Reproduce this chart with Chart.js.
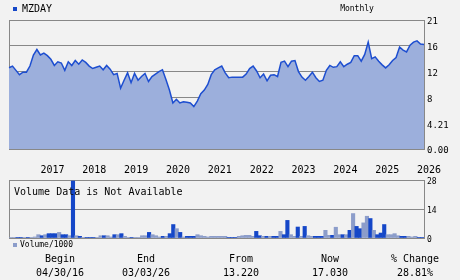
<!DOCTYPE html>
<html><head><meta charset="utf-8">
<script src="https://cdn.jsdelivr.net/npm/chart.js@4/dist/chart.umd.min.js"></script>
<style>
html,body{margin:0;padding:0;background:#f2f2f2;width:460px;height:280px;overflow:hidden;font-family:"DejaVu Sans Mono",monospace;color:#000}
#wrap{position:relative;width:460px;height:280px}
canvas{position:absolute;left:0}
.t{position:absolute;white-space:nowrap;line-height:1}
.c{text-align:center;width:100px}
</style></head><body>
<div id="wrap">
<canvas id="price" width="460" height="180" style="top:0"></canvas>
<canvas id="vol" width="460" height="75" style="top:170px"></canvas>
</div>
<script>
// ---- data ----
const ticker = 'MZDAY';
const period = 'Monthly';
const startYear = 2016, startMonth = 4, monthCount = 120; // Apr 2016 .. Mar 2026
const price = [13.22,13.5,12.8,12.1,12.5,12.5,13.5,15.3,16.2,15.3,
  15.6,15.2,14.6,13.6,14.2,14.0,12.8,14.2,13.6,14.4,
  13.8,14.5,14.1,13.5,13.1,13.3,13.5,12.9,13.6,13.0,
  12.1,12.3,9.9,11.2,12.4,10.8,12.3,11.2,11.8,12.3,
  11.0,11.8,12.2,12.6,12.9,11.3,9.6,7.5,8.1,7.5,
  7.7,7.6,7.5,6.9,7.8,9.0,9.6,10.5,12.1,12.9,
  13.2,13.5,12.4,11.6,11.7,11.7,11.7,11.7,12.2,13.1,
  13.5,12.7,11.6,12.2,11.1,12.0,12.1,11.8,14.1,14.3,
  13.4,14.3,14.4,12.6,11.7,11.2,11.8,12.5,11.6,11.0,
  11.2,12.8,13.6,13.3,13.4,14.2,13.4,13.8,14.1,15.2,
  15.2,14.3,15.4,17.4,14.7,15.0,14.3,13.7,13.2,13.7,
  14.4,14.9,16.6,16.1,15.8,16.9,17.4,17.6,17.1,17.03];
const volume = [0.3,0.3,0.3,0.3,0.3,0.3,0.3,0.5,1.6,1.1,
  1.6,2.1,2.1,2.1,2.7,1.6,1.6,1.1,27.5,1.1,
  0.8,0.3,0.3,0.3,0.3,0.3,1.1,1.1,1.1,0.5,
  1.6,1.6,2.1,0.8,0.3,0.3,0.1,0.3,1.1,1.1,
  2.7,1.6,1.1,0.5,0.8,0.8,2.1,6.5,4.5,2.7,
  0.5,0.8,0.8,0.8,1.6,1.1,0.8,0.5,0.8,0.8,
  0.8,0.8,0.8,0.3,0.3,0.3,0.8,1.1,1.3,1.3,
  0.8,3.2,1.1,0.8,0.8,0.8,0.8,0.8,3.2,1.6,
  8.5,1.6,0.8,5.3,0.8,5.6,1.1,0.8,0.8,0.8,
  0.8,3.7,1.3,1.3,5.2,1.6,1.6,1.6,3.7,11.8,
  5.6,4.5,7.3,10.5,9.4,3.7,1.6,2.4,6.5,1.6,
  1.6,2.1,1.1,0.8,0.8,0.8,0.5,0.8,0.3,0.3];
const volumeUp = 'LLDDLDLLLDLDDDLDDLDLDLDDDLLDLLDLDLLDLLLLDLLLDLDDLDLDDDLLLLLLLLLDDDLLLLLDDLDLDDLDDLLDLDLLDDDLLDLLDLDLDDLLDLDDDLLLLDDLLLDD';
const priceTickValues = [0, 4.2, 8.4, 12.6, 16.8, 21];
const priceTickLabels = ['0.00', '4.21', '8', '12', '16', '21'];
const volTickValues = [0, 14, 28];
const volTickLabels = ['0', '14', '28'];
const volNote = 'Volume Data is Not Available';
const volLegend = 'Volume/1000';
const statHeads = ['Begin', 'End', 'From', 'Now', '% Change'];
const statValues = ['04/30/16', '03/03/26', '13.220', '17.030', '28.81%'];

// ---- categories ----
const months = [];
for (let k = 0; k < monthCount; k++) {
  const m = (startMonth - 1 + k) % 12, y = startYear + Math.floor((startMonth - 1 + k) / 12);
  months.push(y + '-' + String(m + 1).padStart(2, '0'));
}

const FONT = '"DejaVu Sans Mono", monospace';
const GRID = '#888888';
const LINE = '#1d4ed0';
const AREA = '#9cafdc';
const DARK = '#1547c8';
const LIGHT = '#8c9dca';

const leftEdge = {
  id: 'leftEdge',
  beforeDatasetsDraw(c) {
    const {ctx, chartArea: a} = c;
    ctx.save();
    ctx.strokeStyle = GRID; ctx.lineWidth = 1;
    ctx.beginPath();
    ctx.moveTo(Math.round(a.left) + 0.5, a.top);
    ctx.lineTo(Math.round(a.left) + 0.5, a.bottom);
    ctx.stroke();
    ctx.restore();
  }
};

Chart.defaults.animation = false;

new Chart(document.getElementById('price'), {
  type: 'line',
  data: {labels: months, datasets: [{
    data: price, borderColor: LINE, borderWidth: 1.5, backgroundColor: AREA,
    fill: 'origin', pointRadius: 0, tension: 0
  }]},
  options: {
    responsive: false, animation: false, events: [],
    layout: {padding: {left: 9, top: 20, right: 0, bottom: 0}},
    plugins: {legend: {display: false}, tooltip: {enabled: false}},
    scales: {
      x: {
        type: 'category', offset: false,
        grid: {display: false, drawTicks: false},
        border: {display: true, color: GRID},
        ticks: {autoSkip: false, maxRotation: 0, minRotation: 0, align: 'start', padding: 15,
          color: '#000', font: {family: FONT, size: 10},
          callback: (v, i) => months[i].endsWith('-01') ? months[i].slice(0, 4) : ''},
        afterFit: s => { s.height = 31; s.paddingLeft = 0; s.paddingRight = 0; }
      },
      y: {
        position: 'right', min: 0, max: 21,
        afterBuildTicks: s => { s.ticks = priceTickValues.map(v => ({value: v})); },
        grid: {color: GRID, drawTicks: false},
        border: {display: true, color: GRID},
        ticks: {padding: 3, labelOffset: 2, color: '#000', font: {family: FONT, size: 9},
          callback: (v, i) => priceTickLabels[i]},
        afterFit: s => { s.width = 36; s.paddingTop = 0; s.paddingBottom = 0; }
      }
    }
  },
  plugins: [leftEdge]
});

new Chart(document.getElementById('vol'), {
  type: 'bar',
  data: {labels: months, datasets: [{
    data: volume,
    backgroundColor: volume.map((v, i) => volumeUp[i] === 'D' ? DARK : LIGHT),
    barPercentage: 1, categoryPercentage: 1, borderWidth: 0
  }]},
  options: {
    responsive: false, animation: false, events: [],
    layout: {padding: {left: 9, top: 10, right: 0, bottom: 7}},
    plugins: {legend: {display: false}, tooltip: {enabled: false}},
    scales: {
      x: {display: false, offset: true},
      y: {
        position: 'right', min: 0, max: 28,
        afterBuildTicks: s => { s.ticks = volTickValues.map(v => ({value: v})); },
        grid: {color: GRID, drawTicks: false},
        border: {display: true, color: GRID},
        ticks: {padding: 3, labelOffset: 2, color: '#000', font: {family: FONT, size: 8},
          callback: (v, i) => volTickLabels[i]},
        afterFit: s => { s.width = 36; s.paddingTop = 0; s.paddingBottom = 0; }
      }
    }
  },
  plugins: [leftEdge]
});

// ---- text ----
const wrap = document.getElementById('wrap');
function addText(txt, css, cls) {
  const d = document.createElement('div');
  d.className = 't' + (cls ? ' ' + cls : '');
  d.textContent = txt;
  Object.assign(d.style, css);
  wrap.appendChild(d);
  return d;
}
function addBox(css) {
  const d = document.createElement('div');
  d.className = 't';
  Object.assign(d.style, css);
  wrap.appendChild(d);
}
addBox({left: '13px', top: '7px', width: '4px', height: '4px', background: DARK});
addText(ticker, {left: '22px', top: '4px', fontSize: '10px'});
addText(period, {left: '307px', top: '5px', fontSize: '8px'}, 'c');
addText(volNote, {left: '14px', top: '187px', fontSize: '10px'});
addBox({left: '13px', top: '243px', width: '4px', height: '4px', background: LIGHT});
addText(volLegend, {left: '20px', top: '241px', fontSize: '8px'});
const centers = [60, 146, 241, 330, 415];
statHeads.forEach((h, i) => addText(h, {left: (centers[i] - 50) + 'px', top: '254px', fontSize: '10px'}, 'c'));
statValues.forEach((v, i) => addText(v, {left: (centers[i] - 50) + 'px', top: '268px', fontSize: '10px'}, 'c'));
</script>
</body></html>
